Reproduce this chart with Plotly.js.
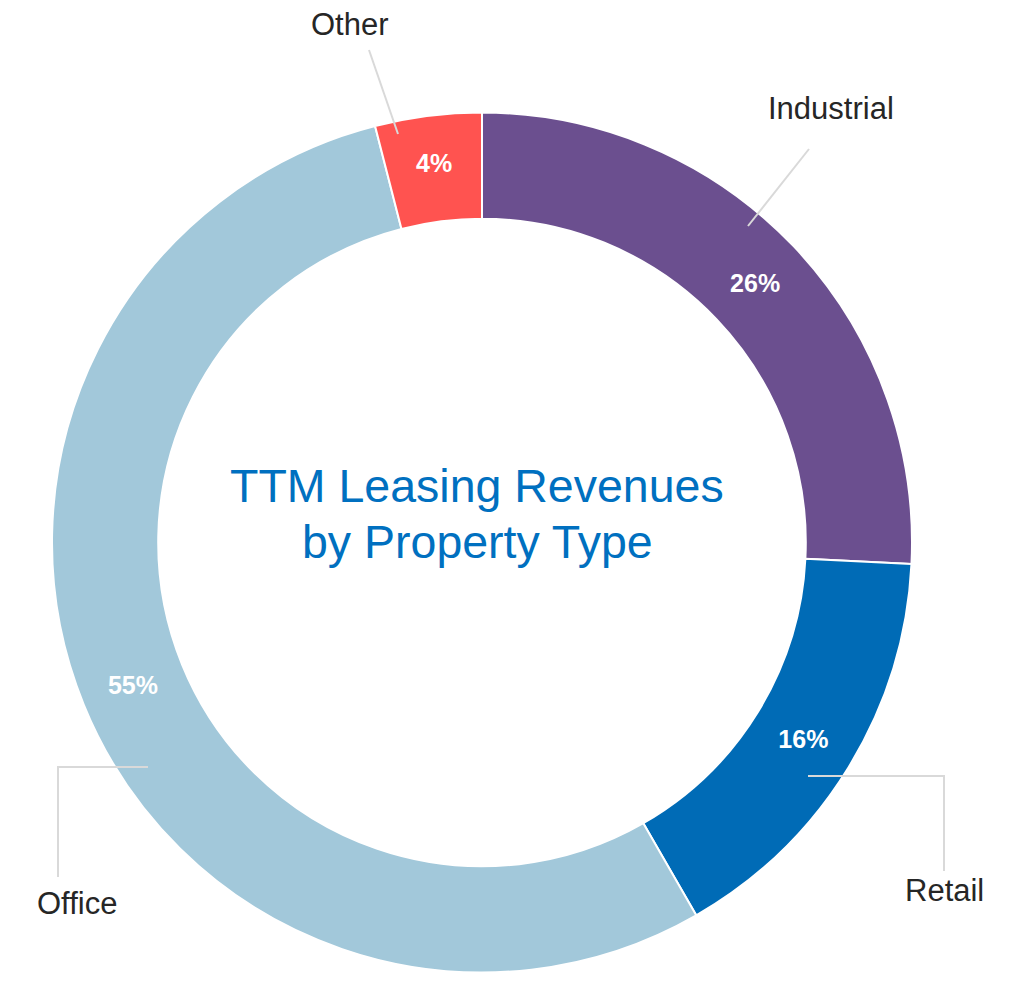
<!DOCTYPE html>
<html>
<head>
<meta charset="utf-8">
<script src="https://cdn.plot.ly/plotly-3.0.1.min.js"></script>
<style>html,body{margin:0;padding:0;background:#fff;}#chart{width:1017px;height:981px;}</style>
</head>
<body>
<div id="chart"></div>
<script>
// ---- data ----
const categories = ["Industrial", "Retail", "Office", "Other"];
const shares = [25.8, 15.9, 54.3, 4.0];
const percentLabels = ["26%", "16%", "55%", "4%"];
const sliceColors = ["#6B4F8F", "#006BB6", "#A2C8DA", "#FF5350"];
const centerTitleLines = ["TTM Leasing Revenues", "by Property Type"];

// ---- layout constants (pixels) ----
const W = 1017, H = 981;
const CX = 482, CY = 542.5, R = 430;
const px = x => x / W;
const py = y => 1 - y / H;

// leader-line geometry per category (pixel positions of polyline + label centre)
const leaderPaths = {
  "Industrial": {pts: [[748, 226], [809, 149]], label: [831, 108]},
  "Retail":     {pts: [[808, 776], [944, 776], [944, 871]], label: [944, 890]},
  "Office":     {pts: [[148, 767], [58, 767], [58, 877]], label: [77, 903]},
  "Other":      {pts: [[398, 134], [369, 50]], label: [350, 25]}
};

const shapes = [];
const annotations = [];
categories.forEach(c => {
  const lp = leaderPaths[c];
  let path = "M " + lp.pts.map(p => px(p[0]) + "," + py(p[1])).join(" L ");
  shapes.push({type: "path", xref: "paper", yref: "paper", path: path,
    line: {color: "#D9D9D9", width: 2}});
  annotations.push({xref: "paper", yref: "paper", x: px(lp.label[0]), y: py(lp.label[1]),
    xanchor: "center", yanchor: "middle", showarrow: false, text: c,
    font: {family: "Liberation Sans, Arial, sans-serif", size: 31, color: "#262626"}});
});

const titleCenters = [[477, 486], [477, 542]];
centerTitleLines.forEach((t, i) => {
  annotations.push({xref: "paper", yref: "paper", x: px(titleCenters[i][0]), y: py(titleCenters[i][1]),
    xanchor: "center", yanchor: "middle", showarrow: false, text: t,
    font: {family: "Liberation Sans, Arial, sans-serif", size: 46.5, color: "#0070C0"}});
});

const trace = {
  type: "pie",
  labels: categories,
  values: shares,
  text: percentLabels,
  sort: false,
  direction: "clockwise",
  rotation: 0,
  hole: 0.753,
  marker: {colors: sliceColors, line: {color: "#FFFFFF", width: 2}},
  texttemplate: "%{text}",
  textposition: "inside",
  insidetextorientation: "horizontal",
  insidetextfont: {family: "Liberation Sans, Arial, sans-serif", size: 25, color: "#FFFFFF", weight: "bold"},
  domain: {x: [px(CX - R), px(CX + R)], y: [py(CY + R), py(CY - R)]},
  hoverinfo: "label+text"
};

const layout = {
  width: W, height: H,
  margin: {l: 0, r: 0, t: 0, b: 0, pad: 0},
  showlegend: false,
  paper_bgcolor: "#FFFFFF",
  plot_bgcolor: "#FFFFFF",
  shapes: shapes,
  annotations: annotations
};

Plotly.newPlot("chart", [trace], layout, {displayModeBar: false, staticPlot: true});
</script>
</body>
</html>
